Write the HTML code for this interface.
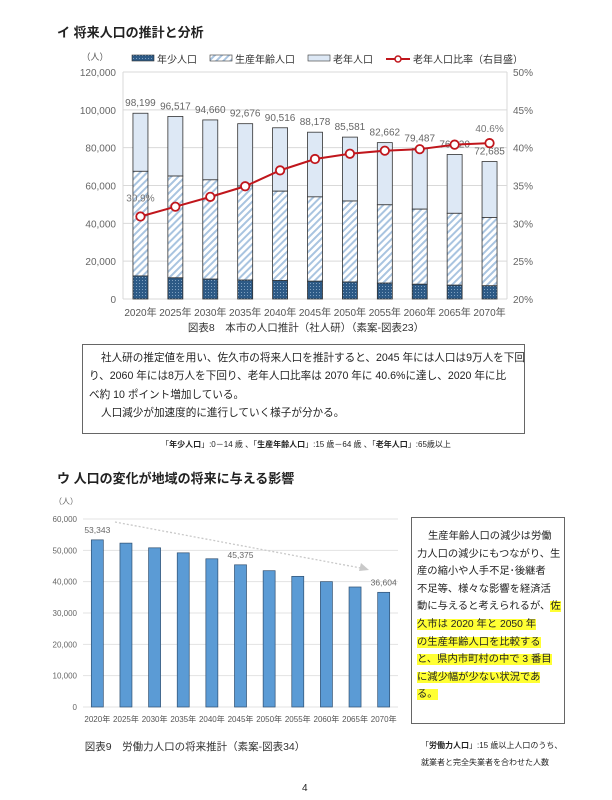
<!DOCTYPE html>
<html><head><meta charset="utf-8">
<style>
body{margin:0;background:#fff;}
#page{position:relative;width:612px;height:800px;overflow:hidden;font-family:"Liberation Sans","Noto Sans CJK JP",sans-serif;color:#222;}
.abs{position:absolute;white-space:nowrap;}
svg text{font-family:"Liberation Sans","Noto Sans CJK JP",sans-serif;}
.hl{background:#ffff33;}
</style></head>
<body>
<div id="page">
<div class="abs" style="left:57px;top:22px;font-size:13px;font-weight:bold;">イ 将来人口の推計と分析</div>
<svg id="chart1" width="612" height="800" style="position:absolute;left:0;top:0">
<defs>
<pattern id="dots" width="3" height="3" patternUnits="userSpaceOnUse"><rect width="3" height="3" fill="#2d5a86"/><rect x="1" y="1" width="1" height="1" fill="#7fa0c0"/></pattern>
<pattern id="hatch" width="5" height="5" patternUnits="userSpaceOnUse" patternTransform="rotate(45)"><rect width="5" height="5" fill="#fff"/><rect width="2" height="5" fill="#a9c4e0"/></pattern>
</defs>
</svg>
<div class="abs" style="left:82px;top:344px;width:441px;height:84px;border:1px solid #666;font-size:10.6px;line-height:18.3px;padding:4px 0 0 0;overflow:hidden;">
<div style="padding-left:18px;">社人研の推定値を用い、佐久市の将来人口を推計すると、2045 年には人口は9万人を下回</div>
<div style="padding-left:6px;">り、2060 年には8万人を下回り、老年人口比率は 2070 年に 40.6%に達し、2020 年に比</div>
<div style="padding-left:6px;">べ約 10 ポイント増加している。</div>
<div style="padding-left:18px;">人口減少が加速度的に進行していく様子が分かる。</div>
</div>
<div class="abs" style="left:0;width:612px;text-align:center;top:439px;font-size:8px;">「<b>年少人口</b>」:0－14 歳 、「<b>生産年齢人口</b>」:15 歳－64 歳 、「<b>老年人口</b>」:65歳以上</div>
<div class="abs" style="left:57px;top:468px;font-size:13px;font-weight:bold;">ウ 人口の変化が地域の将来に与える影響</div>
<div class="abs" style="left:411px;top:517px;width:154px;height:207px;border:1px solid #666;font-size:10.3px;line-height:17.6px;padding-top:10px;box-sizing:border-box;overflow:hidden;">
<div style="padding-left:5px;white-space:nowrap;">
<span style="padding-left:11px"></span>生産年齢人口の減少は労働<br>力人口の減少にもつながり、生<br>産の縮小や人手不足･後継者<br>不足等、様々な影響を経済活<br>動に与えると考えられるが、<span class="hl">佐</span><br><span class="hl">久市は 2020 年と 2050 年</span><br><span class="hl">の生産年齢人口を比較する</span><br><span class="hl">と、県内市町村の中で 3 番目</span><br><span class="hl">に減少幅が少ない状況であ</span><br><span class="hl">る。</span></div></div>
<div class="abs" style="left:421px;top:737px;font-size:8px;line-height:17px;">「<b>労働力人口</b>」:15 歳以上人口のうち、<br>就業者と完全失業者を合わせた人数</div>
<div class="abs" style="left:302px;top:783px;font-size:10px;">4</div>
</div>
<script>
const years=["2020年","2025年","2030年","2035年","2040年","2045年","2050年","2055年","2060年","2065年","2070年"];
const totalPop=[98199,96517,94660,92676,90516,88178,85581,82662,79487,76420,72685];
const youthPop=[12200,11200,10500,10000,9800,9400,9000,8400,7800,7300,7000];
const workingPop=[55300,53800,52500,49800,47200,44600,42800,41400,39700,38000,36100];
const elderlyRate=[30.9,32.2,33.5,34.9,37.0,38.5,39.2,39.6,39.8,40.4,40.6];
const leftTicks=[0,20000,40000,60000,80000,100000,120000];
const rightTicks=[20,25,30,35,40,45,50];
const laborPop=[53343,52300,50800,49200,47300,45375,43500,41700,40000,38300,36604];
const laborTicks=[0,10000,20000,30000,40000,50000,60000];
const labelledLabor=[0,5,10];

const NS="http://www.w3.org/2000/svg";
const svg=document.getElementById('chart1');
function mk(tag,attrs,parent){const e=document.createElementNS(NS,tag);for(const k in attrs)e.setAttribute(k,attrs[k]);(parent||svg).appendChild(e);return e;}
function txt(x,y,s,size,anchor,fill,parent){const t=mk('text',{x:x,y:y,'font-size':size,'text-anchor':anchor||'middle',fill:fill||'#555'},parent);t.textContent=s;return t;}
const fmt=v=>v.toLocaleString('en-US');

// ---- Chart 1 ----
const L1=123,R1=507,T1=72,B1=299;
const y1=v=>B1-v/120000*(B1-T1);
const yR=p=>B1-(p-20)/30*(B1-T1);
const x1=i=>L1+(R1-L1)*(i+0.5)/years.length;
const g1=mk('g',{});


leftTicks.forEach(v=>{mk('line',{x1:L1,x2:R1,y1:y1(v),y2:y1(v),stroke:'#d9d9d9','stroke-width':1},g1);const t=txt(116,y1(v)+4,fmt(v),10,'end','#666',g1);});
rightTicks.forEach(p=>{const t=txt(523,yR(p)+4,p+'%',10,'middle','#666',g1);});
mk('line',{x1:L1,x2:L1,y1:T1,y2:B1,stroke:'#d9d9d9'},g1);
mk('line',{x1:R1,x2:R1,y1:T1,y2:B1,stroke:'#d9d9d9'},g1);
const bw=15;
years.forEach((yr,i)=>{
  const cx=x1(i);
  const yTop=y1(youthPop[i]),wTop=y1(youthPop[i]+workingPop[i]),tTop=y1(totalPop[i]);
  const e=mk('rect',{x:cx-bw/2,y:tTop,width:bw,height:wTop-tTop,fill:'#dde8f5',stroke:'#333','stroke-width':0.8},g1);
  
  const w=mk('rect',{x:cx-bw/2,y:wTop,width:bw,height:yTop-wTop,fill:'url(#hatch)',stroke:'#333','stroke-width':0.8},g1);
  
  const yb=mk('rect',{x:cx-bw/2,y:yTop,width:bw,height:B1-yTop,fill:'url(#dots)',stroke:'#333','stroke-width':0.8},g1);
  
  const lb=txt(cx,tTop-7,fmt(totalPop[i]),10,'middle','#666',g1);
  
  const xl=txt(cx,316,yr,10,'middle','#555',g1);
  
});
const pts=elderlyRate.map((p,i)=>x1(i)+','+yR(p)).join(' ');
const line=mk('polyline',{points:pts,fill:'none',stroke:'#c0161c','stroke-width':2},g1);

elderlyRate.forEach((p,i)=>{const c=mk('circle',{cx:x1(i),cy:yR(p),r:4.2,fill:'#fff',stroke:'#c0161c','stroke-width':1.8},g1);});
const p0=txt(x1(0),yR(elderlyRate[0])-15,elderlyRate[0]+'%',10,'middle','#777',g1);

const pl=txt(x1(10),yR(elderlyRate[10])-11,elderlyRate[10]+'%',10,'middle','#777',g1);

txt(95,60,'（人）',9,'middle','#555',g1);
// legend
const lg=mk('g',{},g1);

mk('rect',{x:132,y:55,width:22,height:6,fill:'url(#dots)',stroke:'#333','stroke-width':0.6},lg);txt(157,63,'年少人口',10,'start','#333',lg);
mk('rect',{x:210,y:55,width:22,height:6,fill:'url(#hatch)',stroke:'#333','stroke-width':0.6},lg);txt(235,63,'生産年齢人口',10,'start','#333',lg);
mk('rect',{x:308,y:55,width:22,height:6,fill:'#dde8f5',stroke:'#333','stroke-width':0.6},lg);txt(333,63,'老年人口',10,'start','#333',lg);
mk('line',{x1:386,x2:410,y1:59,y2:59,stroke:'#c0161c','stroke-width':2},lg);mk('circle',{cx:398,cy:59,r:3,fill:'#fff',stroke:'#c0161c','stroke-width':1.5},lg);
txt(413,63,'老年人口比率（右目盛）',10,'start','#333',lg);
const cap1=txt(306,331,'図表8　本市の人口推計（社人研）（素案-図表23）',10.5,'middle','#333',g1);


// ---- Chart 2 ----
const L2=83,R2=398,T2=519,B2=707;
const y2=v=>B2-v/60000*(B2-T2);
const x2=i=>L2+(R2-L2)*(i+0.5)/years.length;
const g2=mk('g',{});

laborTicks.forEach(v=>{mk('line',{x1:L2,x2:R2,y1:y2(v),y2:y2(v),stroke:'#e3e3e3'},g2);const t=txt(77,y2(v)+3,fmt(v),8,'end','#666',g2);});
txt(66,504,'（人）',8,'middle','#666',g2);
const bw2=12;
years.forEach((yr,i)=>{
  const b=mk('rect',{x:x2(i)-bw2/2,y:y2(laborPop[i]),width:bw2,height:B2-y2(laborPop[i]),fill:'#5b9bd5',stroke:'#2f4f70','stroke-width':0.7},g2);
  
  const xl=txt(x2(i),722,yr,8,'middle','#555',g2);
  
});
labelledLabor.forEach(i=>{const t=txt(x2(i),y2(laborPop[i])-7,fmt(laborPop[i]),8.5,'middle','#666',g2);});
const ar=mk('line',{x1:115,y1:522,x2:366,y2:569,stroke:'#c9c9c9','stroke-width':1.3,'stroke-dasharray':'2,2'},g2);

mk('polygon',{points:'369,570 361,563 359,571',fill:'#c9c9c9'},g2);
const cap2=txt(195,750,'図表9　労働力人口の将来推計（素案-図表34）',10.5,'middle','#333',g2);

</script>
</body></html>
